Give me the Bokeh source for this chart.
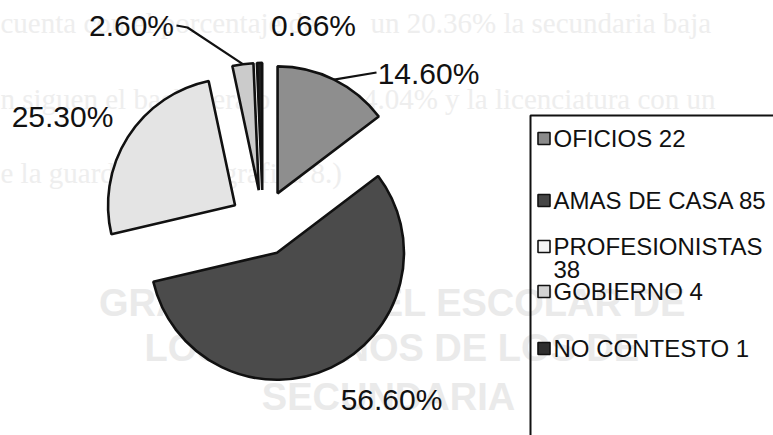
import math
from bokeh.plotting import figure
from bokeh.models import Range1d
from bokeh.core.properties import value
from bokeh.embed import file_html
from bokeh.resources import INLINE

# ---------------- data ----------------
categories = ["OFICIOS", "AMAS DE CASA", "PROFESIONISTAS", "GOBIERNO", "NO CONTESTO"]
counts = [22, 85, 38, 4, 1]
pct_labels = ["14.60%", "56.60%", "25.30%", "2.60%", "0.66%"]
legend_labels = ["OFICIOS 22", "AMAS DE CASA 85", "PROFESIONISTAS\n38", "GOBIERNO 4", "NO CONTESTO 1"]

# faint text showing through from the scanned page
bg_small = ["cuenta con el porcentaje de", "un 20.36% la secundaria baja",
            "n siguen el bachillerato con un 4.04% y la licenciatura con un",
            "e la guardería (Ver gráfica 8.)"]
bg_big = ["GRADO DE NIVEL ESCOLAR DE", "LOS ALUMNOS DE LOS DE", "SECUNDARIA"]

# ---------------- layout / style ----------------
W, H = 773, 435
slice_colors = ["#8e8e8e", "#4b4b4b", "#e4e4e4", "#cbcbcb", "#1e1e1e"]
swatch_colors = ["#8a8a8a", "#454545", "#f4f4f4", "#d2d2d2", "#2e2e2e"]
CX, CY = 262.4, 222.4          # pie centre (screen px)
R = 127                        # radius
EXPLODE = 33                   # explosion distance
label_pos = [(428, 73), (391, 399), (62, 116), (131, 25), (313, 25)]
leaders = {0: [(376, 72)], 3: [(187, 27), (176, 25)]}
legend_y = [138, 200, 246, 291, 348]
legend_line_step = 23
bg_small_pos = [(0, 22, "left"), (370, 22, "left"), (0, 98, "left"), (0, 172, "left")]
bg_big_pos = [(392, 302), (392, 347), (388, 396)]


def sy(y):
    return H - y


p = figure(width=W, height=H, output_backend="svg", toolbar_location=None,
           x_range=Range1d(0, W), y_range=Range1d(0, H),
           x_axis_location=None, y_axis_location=None,
           min_border=0, min_border_left=0, min_border_right=0,
           min_border_top=0, min_border_bottom=0)
p.outline_line_color = None
p.grid.visible = False
p.background_fill_color = "white"
p.border_fill_color = "white"

# bleed-through text
p.text(x=[q[0] for q in bg_small_pos], y=[sy(q[1]) for q in bg_small_pos], text=bg_small,
       text_font=value("Liberation Serif"), text_font_size="29px", text_color="#eeeeee",
       text_align="left", text_baseline="middle")
p.text(x=[q[0] for q in bg_big_pos], y=[sy(q[1]) for q in bg_big_pos], text=bg_big,
       text_font=value("Liberation Sans"), text_font_size="38px", text_font_style="bold",
       text_color="#eaeaea", text_align="center", text_baseline="middle")

# pie slices
total = float(sum(counts))
xs, ys, starts, ends, mids = [], [], [], [], []
cum = 0.0
for c in counts:
    t1 = cum / total * 360.0
    t2 = (cum + c) / total * 360.0
    tm = math.radians((t1 + t2) / 2)
    xs.append(CX + EXPLODE * math.sin(tm))
    ys.append(sy(CY - EXPLODE * math.cos(tm)))
    starts.append(math.radians(90 - t2))
    ends.append(math.radians(90 - t1))
    mids.append(tm)
    cum += c

p.wedge(x=xs, y=ys, radius=R, start_angle=starts, end_angle=ends, direction="anticlock",
        fill_color=slice_colors, line_color="#111111", line_width=2.6)

# leader lines
for i, pts in leaders.items():
    ax = xs[i] + R * math.sin(mids[i])
    ay = ys[i] + R * math.cos(mids[i])
    lx = [ax] + [q[0] for q in pts]
    ly = [ay] + [sy(q[1]) for q in pts]
    p.line(lx, ly, line_color="#111111", line_width=2.2)

# percentage labels
p.text(x=[q[0] for q in label_pos], y=[sy(q[1]) for q in label_pos], text=pct_labels,
       text_font=value("Liberation Sans"), text_font_size="30px", text_color="#111111",
       text_align="center", text_baseline="middle")

# legend (box open to the right / bottom as in the scan)
p.line([530, 530, W], [0, sy(115), sy(115)], line_color="#111111", line_width=2)
p.rect(x=[543.5] * len(categories), y=[sy(v) for v in legend_y], width=12, height=12,
       fill_color=swatch_colors, line_color="#111111", line_width=1.6)
lx, ly, lt = [], [], []
for lab, yv in zip(legend_labels, legend_y):
    for k, part in enumerate(lab.split("\n")):
        lx.append(553)
        ly.append(sy(yv + k * legend_line_step))
        lt.append(part)
p.text(x=lx, y=ly, text=lt, text_font=value("Liberation Sans"), text_font_size="24px",
       text_color="#111111", text_align="left", text_baseline="middle")

open("out.html", "w").write(file_html(p, INLINE))
